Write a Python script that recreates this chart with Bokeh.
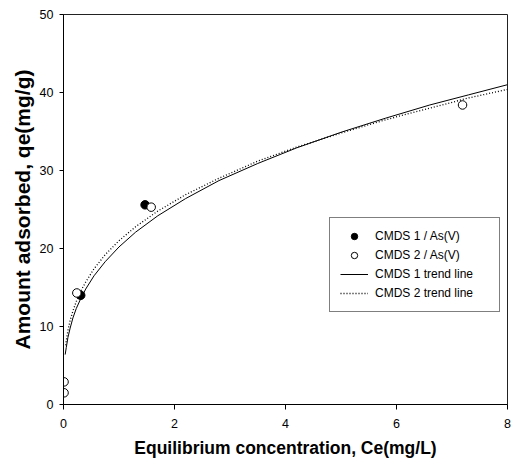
from bokeh.plotting import figure
from bokeh.models import Range1d, FixedTicker, Legend, LegendItem
from bokeh.embed import file_html
from bokeh.resources import INLINE

# --- data ---
x_ticks = [0, 2, 4, 6, 8]
y_ticks = [0, 10, 20, 30, 40, 50]

cmds1_x = [0.31, 1.47]
cmds1_y = [14.0, 25.6]

cmds2_x = [0.01, 0.01, 0.24, 1.58, 7.19]
cmds2_y = [2.9, 1.5, 14.3, 25.3, 38.4]

trend1_x = [0.03, 0.05, 0.08, 0.12, 0.17, 0.23, 0.3, 0.4, 0.55, 0.75, 1.0, 1.3, 1.7,
            2.2, 2.8, 3.5, 4.2, 5.0, 5.8, 6.6, 7.3, 8.0]
trend1_y = [6.4, 7.3, 8.6, 9.8, 11.1, 12.3, 13.4, 14.8, 16.5, 18.3, 20.2, 22.1, 24.2,
            26.4, 28.7, 30.9, 32.9, 34.9, 36.7, 38.4, 39.7, 41.0]

trend2_x = [0.04, 0.05, 0.08, 0.12, 0.17, 0.23, 0.3, 0.4, 0.55, 0.75, 1.0, 1.3, 1.7,
            2.2, 2.8, 3.5, 4.2, 5.0, 5.8, 6.6, 7.3, 8.0]
trend2_y = [7.6, 8.2, 9.5, 10.8, 12.0, 13.2, 14.4, 15.7, 17.4, 19.2, 21.0, 22.8, 24.8,
            26.9, 29.0, 31.2, 33.0, 34.8, 36.5, 38.0, 39.3, 40.4]

labels = ["CMDS 1 / As(V)", "CMDS 2 / As(V)", "CMDS 1 trend line", "CMDS 2 trend line"]

FONT = "Liberation Sans"

p = figure(width=511, height=467, output_backend="svg", toolbar_location=None,
           x_range=Range1d(0, 8), y_range=Range1d(0, 50),
           min_border_left=63, min_border_right=4, min_border_top=14, min_border_bottom=63)
p.background_fill_color = "white"
p.border_fill_color = "white"
p.grid.visible = False
p.outline_line_color = "#222222"
p.outline_line_width = 1

p.xaxis.ticker = FixedTicker(ticks=x_ticks)
p.yaxis.ticker = FixedTicker(ticks=y_ticks)
for ax in (p.xaxis, p.yaxis):
    ax.minor_tick_line_color = None
    ax.major_tick_in = 0
    ax.axis_line_color = "black"
    ax.major_tick_line_color = "black"
    ax.major_label_text_font = FONT
    ax.major_label_text_font_size = "12.5px"
    ax.major_label_text_color = "black"
    ax.axis_label_text_font = FONT
    ax.axis_label_text_font_style = "bold"
    ax.axis_label_text_color = "black"
p.xaxis.major_tick_out = 5
p.yaxis.major_tick_out = 4
p.xaxis.major_label_standoff = 9
p.yaxis.major_label_standoff = 6
p.xaxis.axis_label = "Equilibrium concentration, Ce(mg/L)"
p.yaxis.axis_label = "Amount adsorbed, qe(mg/g)"
p.xaxis.axis_label_text_font_size = "17.5px"
p.yaxis.axis_label_text_font_size = "21px"
p.xaxis.axis_label_standoff = 7
p.yaxis.axis_label_standoff = 3

l1 = p.line(trend1_x, trend1_y, line_color="black", line_width=1)
l2 = p.line(trend2_x, trend2_y, line_color="black", line_width=1.3, line_dash="1 2")
s1 = p.scatter(cmds1_x, cmds1_y, size=8.5, marker="circle",
               fill_color="black", line_color="black", line_width=1)
s2 = p.scatter(cmds2_x, cmds2_y, size=8.5, marker="circle",
               fill_color="white", line_color="black", line_width=1)

legend = Legend(items=[LegendItem(label=labels[0], renderers=[s1]),
                       LegendItem(label=labels[1], renderers=[s2]),
                       LegendItem(label=labels[2], renderers=[l1]),
                       LegendItem(label=labels[3], renderers=[l2])],
                location=(266, 92))
legend.label_text_font = FONT
legend.label_text_font_size = "12px"
legend.label_text_color = "black"
legend.glyph_width = 28
legend.glyph_height = 16
legend.label_height = 16
legend.label_width = 114
legend.label_standoff = 7
legend.spacing = 3
legend.padding = 10
legend.margin = 0
legend.border_line_color = "black"
legend.border_line_width = 1
legend.background_fill_color = "white"
legend.background_fill_alpha = 1
p.add_layout(legend)

open("out.html", "w").write(file_html(p, INLINE))
